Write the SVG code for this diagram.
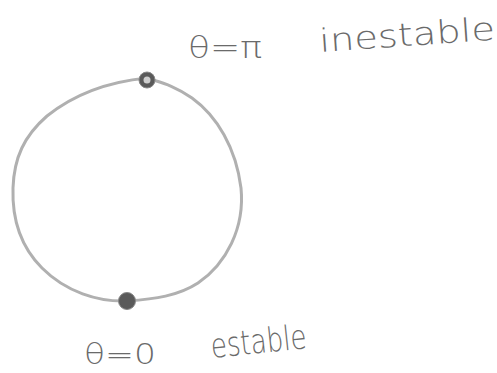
<svg xmlns="http://www.w3.org/2000/svg" width="497" height="373" viewBox="0 0 497 373">
<style>
.t{font-family:"DejaVu Sans",sans-serif;fill:#6a6a6a;font-weight:300}
.ring{fill:none;stroke:#b0b0b0;stroke-width:3;stroke-linecap:round;stroke-linejoin:round}
.dot{fill:#5a5a5a;stroke:#888;stroke-width:1}
</style>
<rect width="497" height="373" fill="#fff"/>
<path class="ring" d="M147,78 C158,82 172,84 192,98 C217,116 236,148 241,188 C245,228 226,264 198,283 C178,296 155,299 127,301 C98,302 66,292 42,268 C20,246 12,218 13,188 C14,158 24,136 47,116 C72,96 106,82 147,78 Z"/>
<g id="top">
<circle class="dot" cx="147" cy="80" r="8"/>
<circle cx="147" cy="80" r="3.5" fill="#fff" opacity="0.7"/>
</g>
<g id="bottom">
<circle class="dot" cx="127" cy="301" r="8.5"/>
</g>
<text class="t" x="188" y="58" font-size="30" textLength="74" lengthAdjust="spacingAndGlyphs">θ=π</text>
<text class="t" x="320" y="52" font-size="32" textLength="176" lengthAdjust="spacingAndGlyphs" transform="rotate(-4 320 52)">inestable</text>
<text class="t" x="84" y="364" font-size="28" textLength="72" lengthAdjust="spacingAndGlyphs">θ=0</text>
<text class="t" x="212" y="358" font-size="34" textLength="96" lengthAdjust="spacingAndGlyphs" transform="rotate(-6 212 358)">estable</text>
</svg>
